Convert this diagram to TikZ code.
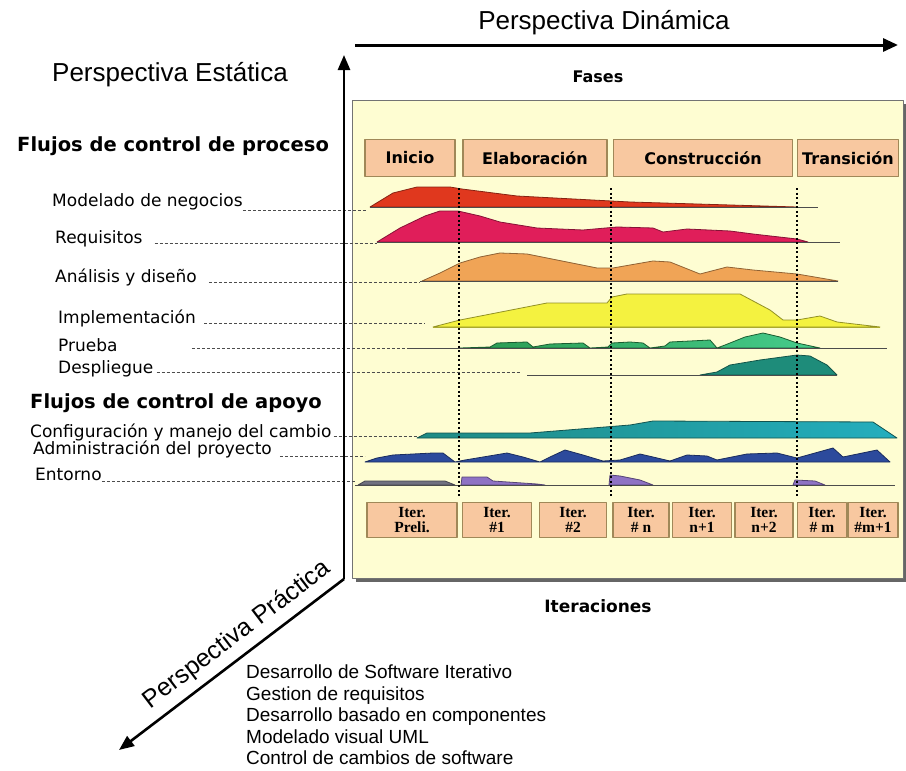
\documentclass[tikz,border=0pt]{standalone}
\usepackage{fontspec}
\setmainfont{Liberation Sans}
\newfontfamily\verdana{DejaVu Sans}
\newfontfamily\iterfont{Liberation Serif}
\usepackage[dvipsnames]{xcolor}
\usetikzlibrary{arrows.meta, positioning}

\definecolor{panelfill}{HTML}{FEFDD2}
\definecolor{boxfill}{HTML}{F8C8A0}
\definecolor{boxline}{HTML}{A08858}
\definecolor{negred}{HTML}{E0381E}
\definecolor{reqpink}{HTML}{E01E5A}
\definecolor{anaorange}{HTML}{F0A456}
\definecolor{impyellow}{HTML}{F4F240}
\definecolor{prudark}{HTML}{2A9A50}
\definecolor{prulight}{HTML}{46CC8C}
\definecolor{despteal}{HTML}{1E8C7A}
\definecolor{confdark}{HTML}{1E8A84}
\definecolor{conflight}{HTML}{24AEBE}
\definecolor{adminblue}{HTML}{2C4A9C}
\definecolor{entpurple}{HTML}{8E72C4}
\definecolor{entgray}{HTML}{707080}

\begin{document}
\begin{tikzpicture}[x=1pt, y=-1pt, line join=round,
    axis/.style={line width=2.6pt},
    persp/.style={inner sep=0pt, font=\fontsize{26}{30}\selectfont},
    heading/.style={anchor=base west, inner sep=0pt, font=\verdana\bfseries\fontsize{19.5}{22}\selectfont},
    flow/.style={anchor=base west, inner sep=0pt, font=\verdana\fontsize{17}{20}\selectfont},
    title/.style={inner sep=0pt, font=\verdana\bfseries\fontsize{16}{18}\selectfont},
    leader/.style={densely dashed, line width=1pt, black!70},
    phasebox/.style={draw=boxline, line width=1.2pt, fill=boxfill, minimum height=37, inner sep=0pt, font=\verdana\bfseries\fontsize{16}{18}\selectfont},
    iterbox/.style={draw=boxline, line width=1.2pt, fill=boxfill, minimum height=35, inner sep=0pt, align=center, font=\iterfont\bfseries\fontsize{15.5}{15}\selectfont},
    hump/.style={draw=#1!60!black, fill=#1, line width=0.8pt},
    base/.style={black!70, line width=1pt},
    phaseline/.style={line width=1.8pt, dash pattern=on 2pt off 2.5pt}]

    \useasboundingbox (0,0) rectangle (906,771);

    % panel
    \fill[black!60] (356,104) rectangle (906,582);
    \draw[fill=panelfill, draw=black!55, line width=1pt] (352,100) rectangle (903,578);

    \node[title] at (598,77) (fases) {Fases};
    \node[title, font=\verdana\bfseries\fontsize{17}{19}\selectfont] at (598,606) (iteraciones) {Iteraciones};

    % phases
    \node[phasebox, minimum width=90] at (410,158) (inicio) {Inicio};
    \node[phasebox, minimum width=144] at (535,158) (elaboracion) {Elaboración};
    \node[phasebox, minimum width=179] at (703,158) (construccion) {Construcción};
    \node[phasebox, minimum width=101] at (848,158) (transicion) {Transición};

    % labels
    \node[heading] at (17,151) (proceso) {Flujos de control de proceso};
    \node[flow] at (52,206) (negocios) {Modelado de negocios};
    \node[flow] at (55,243) (requisitos) {Requisitos};
    \node[flow] at (55,282) (analisis) {Análisis y diseño};
    \node[flow] at (58,323) (implementacion) {Implementación};
    \node[flow] at (58,351) (prueba) {Prueba};
    \node[flow] at (58,373) (despliegue) {Despliegue};
    \node[heading] at (30,408) (apoyo) {Flujos de control de apoyo};
    \node[flow] at (30,437) (configuracion) {Configuración y manejo del cambio};
    \node[flow] at (33,454) (administracion) {Administración del proyecto};
    \node[flow] at (35,480) (entorno) {Entorno};

    \coordinate (lead1) at (367,210);
    \coordinate (lead2) at (377,243);
    \coordinate (lead3) at (420,282);
    \coordinate (lead4) at (425,323);
    \coordinate (lead5) at (407,348);
    \coordinate (lead6) at (520,372);
    \coordinate (lead7) at (417,436);
    \coordinate (lead8) at (365,456);
    \coordinate (lead9) at (355,481);

    \draw[leader] (negocios.base east |- lead1) -- (lead1);
    \draw[leader] (requisitos.base east |- lead2) ++(12,0) -- (lead2);
    \draw[leader] (analisis.base east |- lead3) ++(12,0) -- (lead3);
    \draw[leader] (implementacion.base east |- lead4) ++(8,0) -- (lead4);
    \draw[leader] (prueba.base east |- lead5) ++(74,0) -- (lead5);
    \draw[leader] (despliegue.base east |- lead6) ++(3,0) -- (lead6);
    \draw[leader] (configuracion.base east |- lead7) ++(2,0) -- (lead7);
    \draw[leader] (administracion.base east |- lead8) ++(8,0) -- (lead8);
    \draw[leader] (entorno.base east |- lead9) -- (lead9);

    % modelado de negocios
    \filldraw[hump=negred] (370,207) -- (393,193) -- (417,187) -- (450,187) -- (462,189) -- (517,196) -- (630,202) -- (797,207) -- cycle;
    \draw[base] (370,207) -- (818,207);
    % requisitos
    \filldraw[hump=reqpink] (377,242) -- (400,228) -- (425,216) -- (440,211) -- (458,211) -- (480,216) -- (500,222) -- (537,228) -- (583,230) -- (617,227) -- (653,228) -- (663,232) -- (687,229) -- (730,231) -- (753,234) -- (797,239) -- (808,242) -- cycle;
    \draw[base] (377,242) -- (840,242);
    % analisis y diseno
    \filldraw[hump=anaorange] (422,281) -- (440,273) -- (460,263) -- (480,257) -- (500,253) -- (527,254) -- (567,262) -- (597,268) -- (613,268) -- (630,265) -- (653,261) -- (670,262) -- (700,274) -- (727,267) -- (753,270) -- (797,274) -- (838,281) -- cycle;
    \draw[base] (420,281) -- (838,281);
    % implementacion
    \filldraw[hump=impyellow] (433,327) -- (460,320) -- (547,303) -- (607,303) -- (612,297) -- (627,294) -- (740,294) -- (770,310) -- (783,320) -- (797,320) -- (820,316) -- (837,322) -- (880,327) -- cycle;
    \draw[base, impyellow!70!black] (433,327) -- (880,327);
    % prueba
    \draw[draw=prudark!60!black, line width=0.8pt, left color=prudark, right color=prulight] (460,348) -- (490,347) -- (497,343) -- (527,342) -- (533,347) -- (550,344) -- (583,343) -- (590,348) -- (608,347) -- (612,343) -- (630,342) -- (643,343) -- (650,348) -- (665,346) -- (670,342) -- (710,340) -- (717,348) -- (725,345) -- (745,337) -- (763,333) -- (780,337) -- (797,343) -- (820,348) -- cycle;
    \draw[base] (407,348) -- (887,348);
    % despliegue
    \filldraw[hump=despteal] (700,375) -- (717,372) -- (730,365) -- (760,360) -- (797,355) -- (810,356) -- (827,365) -- (837,375) -- cycle;
    \draw[base] (527,375) -- (837,375);
    % configuracion
    \draw[draw=confdark!60!black, line width=0.8pt, left color=confdark, right color=conflight] (417,438) -- (427,433) -- (530,433) -- (580,429) -- (630,425) -- (653,421) -- (873,422) -- (885,430) -- (897,438) -- cycle;
    % administracion
    \filldraw[hump=adminblue] (365,462) -- (377,458) -- (393,455) -- (433,453) -- (443,453) -- (455,462) -- (465,460) -- (483,457) -- (507,453) -- (523,457) -- (540,462) -- (550,457) -- (565,450) -- (583,455) -- (603,461) -- (620,460) -- (640,454) -- (653,457) -- (670,461) -- (687,455) -- (707,456) -- (717,460) -- (747,454) -- (777,453) -- (797,458) -- (833,448) -- (843,457) -- (877,450) -- (890,462) -- cycle;
    % entorno
    \filldraw[hump=entgray] (358,485) -- (365,481) -- (445,481) -- (455,485) -- cycle;
    \filldraw[hump=entpurple] (461,485) -- (462,477) -- (487,477) -- (493,481) -- (537,484) -- (545,485) -- cycle;
    \filldraw[hump=entpurple] (609,485) -- (610,475) -- (620,476) -- (640,480) -- (653,485) -- cycle;
    \filldraw[hump=entpurple] (793,485) -- (795,480) -- (815,481) -- (825,485) -- cycle;
    \draw[base] (355,485) -- (895,485);

    % phase limits
    \draw[phaseline] (459,188) -- (459,497);
    \draw[phaseline] (611,188) -- (611,497);
    \draw[phaseline] (797,188) -- (797,497);

    % iterations
    \node[iterbox, minimum width=90] at (412,520) (it0) {Iter.\\Preli.};
    \node[iterbox, minimum width=69] at (497,520) (it1) {Iter.\\\#1};
    \node[iterbox, minimum width=67] at (573,520) (it2) {Iter.\\\#2};
    \node[iterbox, minimum width=56] at (641,520) (itn) {Iter.\\\# n};
    \node[iterbox, minimum width=59] at (702,520) (itn1) {Iter.\\n+1};
    \node[iterbox, minimum width=58] at (764,520) (itn2) {Iter.\\n+2};
    \node[iterbox, minimum width=49] at (822,520) (itm) {Iter.\\\# m};
    \node[iterbox, minimum width=50] at (873,520) (itm1) {Iter.\\\#m+1};

    % axes
    \coordinate (origin) at (344,579);
    \coordinate (estaticatip) at (344,55);
    \coordinate (dinamicastart) at (355,45);
    \coordinate (dinamicatip) at (898,45);
    \coordinate (practicatip) at (119,750);

    \draw[axis, -{Triangle[length=15pt, width=12pt]}] (origin) -- (estaticatip);
    \draw[axis, line width=3pt, -{Triangle[length=15pt, width=13pt]}] (dinamicastart) -- (dinamicatip);
    \draw[axis, {Triangle[length=15pt, width=12pt]}-] (practicatip) -- node[persp, pos=0.58, sloped, above=7pt, font=\fontsize{25}{28}\selectfont] (practica) {Perspectiva Práctica} (origin);

    \node[persp] at (604,23) (dinamica) {Perspectiva Dinámica};
    \node[persp, anchor=base west] at (52,81) (estatica) {Perspectiva Estática};

    \node[anchor=north west, align=left, inner sep=0pt, font=\fontsize{19}{21.5}\selectfont] at (246,665) (practicas) {Desarrollo de Software Iterativo\\Gestion de requisitos\\Desarrollo basado en componentes\\Modelado visual UML\\Control de cambios de software};
\end{tikzpicture}
\end{document}
